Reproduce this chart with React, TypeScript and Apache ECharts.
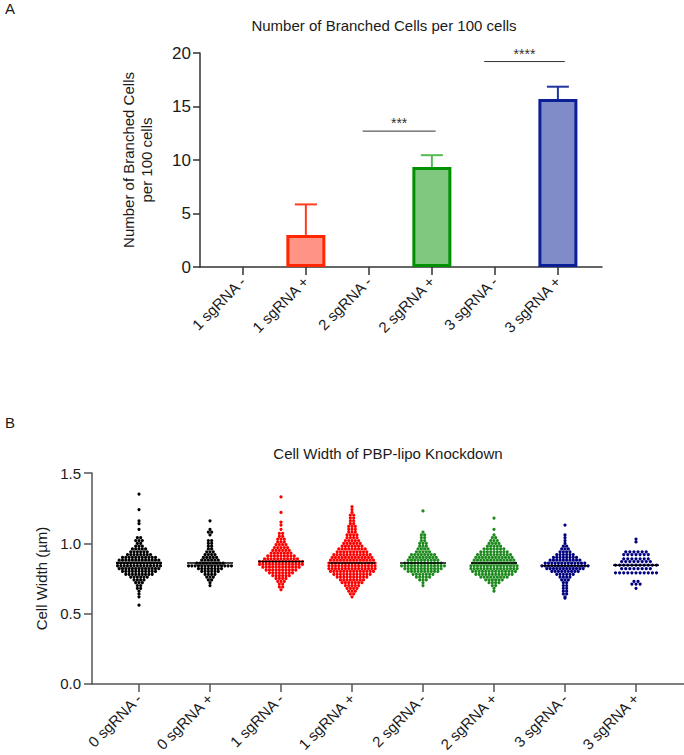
import React, { useEffect, useRef } from "react";
import * as echarts from "echarts";

// ---------- Panel A data ----------
const GROUPS_A = ["1 sgRNA -", "1 sgRNA +", "2 sgRNA -", "2 sgRNA +", "3 sgRNA -", "3 sgRNA +"];
const BRANCHED_MEAN: (number | null)[] = [null, 3.0, null, 9.35, null, 15.7];
const BRANCHED_SD: (number | null)[] = [null, 2.85, null, 1.1, null, 1.15];
const SIG_LABELS = ["***", "****"];
const SIG_LEVEL = [12.7, 19.2];
const SIG_SPAN = [[1.9, 3.06], [3.83, 5.11]];
const Y_TICKS_A = [0, 5, 10, 15, 20];

// ---------- Panel B data ([value, count at that value]) ----------
const GROUPS_B = ["0 sgRNA -", "0 sgRNA +", "1 sgRNA -", "1 sgRNA +", "2 sgRNA -", "2 sgRNA +", "3 sgRNA -", "3 sgRNA +"];
const W_0_MINUS = [[1.35,1],[1.24,1],[1.16,1],[1.14,1],[1.10,1],[1.04,2],[1.02,3],[1.00,2],[0.98,3],[0.96,5],[0.94,6],[0.92,8],[0.90,11],[0.88,13],[0.86,14],[0.84,14],[0.82,13],[0.80,11],[0.78,9],[0.76,6],[0.74,4],[0.72,3],[0.70,2],[0.68,2],[0.66,1],[0.64,1],[0.62,1],[0.56,1]];
const W_0_PLUS = [[1.16,1],[1.10,1],[1.08,2],[1.06,1],[1.02,2],[1.00,2],[0.98,2],[0.96,2],[0.94,3],[0.92,4],[0.90,5],[0.88,6],[0.86,9],[0.84,14],[0.82,8],[0.80,6],[0.78,4],[0.76,3],[0.74,2],[0.72,1],[0.70,1]];
const W_1_MINUS = [[1.33,1],[1.22,1],[1.15,1],[1.13,1],[1.10,1],[1.07,2],[1.05,2],[1.03,3],[1.01,3],[0.99,4],[0.97,5],[0.95,6],[0.93,7],[0.91,9],[0.89,11],[0.87,14],[0.85,14],[0.83,12],[0.81,10],[0.79,8],[0.77,6],[0.75,4],[0.73,3],[0.71,2],[0.69,2],[0.67,1]];
const W_1_PLUS = [[1.26,1],[1.24,1],[1.22,1],[1.20,2],[1.18,2],[1.16,2],[1.14,2],[1.12,3],[1.10,3],[1.08,3],[1.06,4],[1.04,4],[1.02,5],[1.00,6],[0.98,7],[0.96,9],[0.94,10],[0.92,12],[0.90,13],[0.88,14],[0.86,15],[0.84,15],[0.82,15],[0.80,14],[0.78,12],[0.76,10],[0.74,8],[0.72,7],[0.70,5],[0.68,4],[0.66,3],[0.64,2],[0.62,1]];
const W_2_MINUS = [[1.23,1],[1.08,1],[1.06,2],[1.04,2],[1.02,2],[1.00,3],[0.98,3],[0.96,4],[0.94,5],[0.92,8],[0.90,9],[0.88,10],[0.86,12],[0.84,14],[0.82,12],[0.80,10],[0.78,7],[0.76,5],[0.74,3],[0.72,1],[0.70,1]];
const W_2_PLUS = [[1.18,1],[1.10,1],[1.06,1],[1.04,2],[1.02,3],[1.00,4],[0.98,5],[0.96,7],[0.94,9],[0.92,11],[0.90,12],[0.88,13],[0.86,14],[0.84,15],[0.82,15],[0.80,14],[0.78,12],[0.76,9],[0.74,6],[0.72,4],[0.70,2],[0.68,1],[0.66,1]];
const W_3_MINUS = [[1.13,1],[1.06,1],[1.04,1],[1.02,1],[1.00,1],[0.98,2],[0.96,3],[0.94,4],[0.92,6],[0.90,8],[0.88,10],[0.86,13],[0.84,15],[0.82,12],[0.80,9],[0.78,6],[0.76,4],[0.74,3],[0.72,2],[0.70,2],[0.68,2],[0.66,2],[0.64,2],[0.62,1],[0.61,1]];
const W_3_PLUS = [[1.03,1],[1.01,1],[0.94,6],[0.92,7],[0.89,7],[0.87,8],[0.845,11],[0.82,8],[0.79,11],[0.73,2],[0.71,3],[0.68,1]];
const WIDTH_BINS = [W_0_MINUS, W_0_PLUS, W_1_MINUS, W_1_PLUS, W_2_MINUS, W_2_PLUS, W_3_MINUS, W_3_PLUS];
const Y_TICKS_B = [0, 0.5, 1.0, 1.5];

// ---------- styles ----------
const FONT = "Liberation Sans, Arial, sans-serif";
const TXT = "#1a1a1a";
const BAR_BORDER = ["#FF2600", "#FF2600", "#009100", "#009100", "#0B1F96", "#0B1F96"];
const BAR_FILL = ["#FF9385", "#FF9385", "#80C880", "#80C880", "#7F8CC8", "#7F8CC8"];
const WHISKER = ["#FF3B20", "#FF3B20", "#55BB55", "#55BB55", "#2233A0", "#2233A0"];
const DOT = ["#000000", "#000000", "#FF0000", "#FF0000", "#1E8A1E", "#1E8A1E", "#00007F", "#00007F"];
const DOT_SPACING = [3.3, 3.3, 3.3, 3.3, 3.3, 3.3, 3.3, 4.1];

function median(a: number[]) {
  const s = [...a].sort((x, y) => x - y);
  const m = Math.floor(s.length / 2);
  return s.length % 2 ? s[m] : (s[m - 1] + s[m]) / 2;
}

export default function App() {
  const ref = useRef<HTMLDivElement>(null);
  useEffect(() => {
    if (!ref.current) return;
    const chart = echarts.init(ref.current, undefined, { renderer: "svg" });

    const barData = BRANCHED_MEAN.map((v, i) =>
      v == null ? null : { value: [i, v], itemStyle: { color: BAR_FILL[i], borderColor: BAR_BORDER[i], borderWidth: 3 } }
    ).filter(Boolean);
    const errData = BRANCHED_MEAN.map((v, i) => (v == null ? null : [i, v, v + (BRANCHED_SD[i] as number)])).filter(Boolean);
    const sigData = SIG_LEVEL.map((y, i) => [SIG_SPAN[i][0], SIG_SPAN[i][1], y]);

    const dots: number[][] = [];
    const medians: number[][] = [];
    WIDTH_BINS.forEach((bins, g) => {
      const all: number[] = [];
      bins.forEach(([v, c]) => {
        for (let k = 0; k < c; k++) {
          dots.push([g, v, k - (c - 1) / 2]);
          all.push(v);
        }
      });
      medians.push([g, median(all)]);
    });

    const axisLineA = { show: true, onZero: false, lineStyle: { color: "#333", width: 1.5 } };
    const axisLineB = { show: true, onZero: false, lineStyle: { color: "#555", width: 1.5 } };

    chart.setOption({
      animation: false,
      grid: [
        { left: 200, top: 53, width: 402, height: 214 },
        { left: 92, top: 473, width: 592, height: 213 },
      ],
      xAxis: [
        {
          gridIndex: 0, type: "value", min: -0.68, max: 5.7,
          axisLine: axisLineA, splitLine: { show: false },
          axisTick: { show: true, length: 8, lineStyle: { color: "#333", width: 1.5 }, customValues: [0, 1, 2, 3, 4, 5] },
          axisLabel: {
            customValues: [0, 1, 2, 3, 4, 5], rotate: 45, margin: 12, fontSize: 15, color: TXT, fontFamily: FONT,
            formatter: (v: number) => GROUPS_A[Math.round(v)] ?? "",
          },
        },
        {
          gridIndex: 1, type: "value", min: -0.662, max: 7.676,
          axisLine: axisLineB, splitLine: { show: false },
          axisTick: { show: true, length: 8, lineStyle: { color: "#555", width: 1.5 }, customValues: [0, 1, 2, 3, 4, 5, 6, 7] },
          axisLabel: {
            customValues: [0, 1, 2, 3, 4, 5, 6, 7], rotate: 45, margin: 12, fontSize: 15, color: TXT, fontFamily: FONT,
            formatter: (v: number) => GROUPS_B[Math.round(v)] ?? "",
          },
        },
      ],
      yAxis: [
        {
          gridIndex: 0, type: "value", min: Y_TICKS_A[0], max: Y_TICKS_A[Y_TICKS_A.length - 1], interval: 5,
          axisLine: axisLineA, splitLine: { show: false },
          axisTick: { show: true, length: 7, lineStyle: { color: "#333", width: 1.5 } },
          axisLabel: { fontSize: 17, color: TXT, fontFamily: FONT, margin: 9 },
          name: "Number of Branched Cells\nper 100 cells", nameLocation: "middle", nameGap: 45, nameRotate: 90,
          nameTextStyle: { fontSize: 15, color: TXT, fontFamily: FONT, lineHeight: 18 },
        },
        {
          gridIndex: 1, type: "value", min: Y_TICKS_B[0], max: Y_TICKS_B[Y_TICKS_B.length - 1], interval: 0.5,
          axisLine: axisLineB, splitLine: { show: false },
          axisTick: { show: true, length: 8, lineStyle: { color: "#555", width: 1.5 } },
          axisLabel: { fontSize: 15, color: TXT, fontFamily: FONT, margin: 11, formatter: (v: number) => v.toFixed(1) },
          name: "Cell Width (µm)", nameLocation: "middle", nameGap: 41, nameRotate: 90,
          nameTextStyle: { fontSize: 15, color: TXT, fontFamily: FONT },
        },
      ],
      graphic: [
        { type: "text", x: 5, y: 8, style: { text: "A", fontSize: 15, fontFamily: FONT, fill: TXT, verticalAlign: "middle" } },
        { type: "text", x: 384, y: 25, style: { text: "Number of Branched Cells per 100 cells", fontSize: 15, fontFamily: FONT, fill: TXT, align: "center", verticalAlign: "middle" } },
        { type: "text", x: 5, y: 422, style: { text: "B", fontSize: 15, fontFamily: FONT, fill: TXT, verticalAlign: "middle" } },
        { type: "text", x: 388, y: 453, style: { text: "Cell Width of PBP-lipo Knockdown", fontSize: 15, fontFamily: FONT, fill: TXT, align: "center", verticalAlign: "middle" } },
      ],
      series: [
        {
          type: "bar", xAxisIndex: 0, yAxisIndex: 0, barWidth: 39, data: barData, z: 2,
        },
        {
          type: "custom", xAxisIndex: 0, yAxisIndex: 0, data: errData, z: 1,
          encode: { x: 0, y: [1, 2] },
          renderItem: (params: any, api: any) => {
            const i = api.value(0);
            const a = api.coord([i, api.value(1)]);
            const b = api.coord([i, api.value(2)]);
            const c = WHISKER[i];
            return {
              type: "group",
              children: [
                { type: "line", shape: { x1: a[0], y1: a[1], x2: b[0], y2: b[1] }, style: { stroke: c, lineWidth: 2 } },
                { type: "line", shape: { x1: b[0] - 11, y1: b[1], x2: b[0] + 11, y2: b[1] }, style: { stroke: c, lineWidth: 2 } },
              ],
            };
          },
        },
        {
          type: "custom", xAxisIndex: 0, yAxisIndex: 0, data: sigData,
          encode: { x: [0, 1], y: 2 },
          renderItem: (params: any, api: any) => {
            const a = api.coord([api.value(0), api.value(2)]);
            const b = api.coord([api.value(1), api.value(2)]);
            return {
              type: "group",
              children: [
                { type: "line", shape: { x1: a[0], y1: a[1], x2: b[0], y2: b[1] }, style: { stroke: "#333", lineWidth: 1 } },
                { type: "text", x: (a[0] + b[0]) / 2, y: a[1] - 8, style: { text: SIG_LABELS[params.dataIndex], fontSize: 14, fontFamily: FONT, fill: "#333", align: "center", verticalAlign: "middle" } },
              ],
            };
          },
        },
        {
          type: "custom", xAxisIndex: 1, yAxisIndex: 1, data: dots,
          encode: { x: 0, y: 1 },
          renderItem: (params: any, api: any) => {
            const g = api.value(0);
            const p = api.coord([g, api.value(1)]);
            return { type: "circle", shape: { cx: p[0] + api.value(2) * DOT_SPACING[g], cy: p[1], r: 1.6 }, style: { fill: DOT[g] } };
          },
        },
        {
          type: "custom", xAxisIndex: 1, yAxisIndex: 1, data: medians, z: 5,
          encode: { x: 0, y: 1 },
          renderItem: (params: any, api: any) => {
            const p = api.coord([api.value(0), api.value(1)]);
            return { type: "line", shape: { x1: p[0] - 23, y1: p[1], x2: p[0] + 23, y2: p[1] }, style: { stroke: "#000", lineWidth: 1.5 } };
          },
        },
      ],
    });
    return () => chart.dispose();
  }, []);
  return <div ref={ref} style={{ position: "absolute", left: 0, top: 0, width: 684, height: 755, background: "#fff" }} />;
}
